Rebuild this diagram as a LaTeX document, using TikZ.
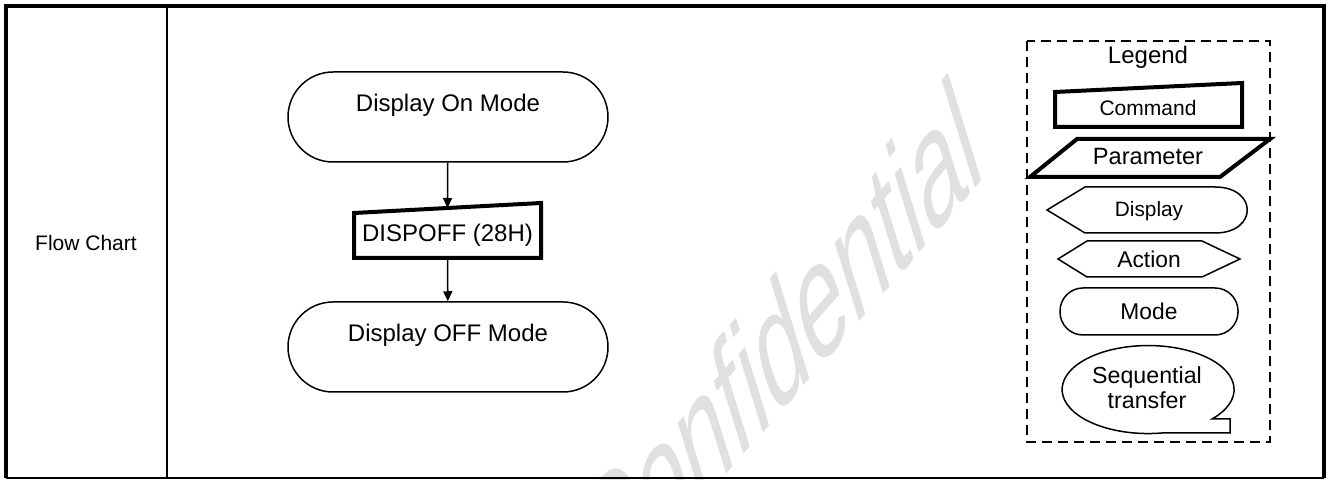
\documentclass[tikz,border=0pt]{standalone}
\usepackage{fontspec}
\setmainfont{Liberation Sans}
\usetikzlibrary{arrows.meta}
\definecolor{markgray}{gray}{0.88}
\tikzset{
  thinline/.style={line width=0.75pt},
  boldline/.style={line width=2pt},
  flowarrow/.style={thinline,-{Triangle[length=5pt,width=4.5pt]}},
  modebox/.style={draw,thinline,rounded corners=22.5pt,minimum width=160pt,minimum height=45pt,
    align=center,font=\fontsize{12}{14}\selectfont},
  cmdbox/.style={inner sep=0pt,outer sep=0pt,minimum width=93.5pt,minimum height=22.5pt,
    font=\fontsize{12}{14}\selectfont},
  legendtext/.style={inner sep=0pt,align=center,font=\fontsize{#1}{12.5}\selectfont}
}
\begin{document}
\begin{tikzpicture}[x=0.5pt,y=-0.5pt]
    \useasboundingbox (0,0) rectangle (1328,480);
    \node [text=markgray,inner sep=0pt,anchor=base east,rotate=49,xslant=0.62,yscale=1.2,
      font=\fontsize{55}{55}\selectfont] (mark) at (987,175) {Confidential};

    \draw [boldline] (6,478) -- (6,6) -- (1324,6) -- (1324,478);
    \draw [thinline] (6,478) -- (1324,478);
    \draw [thinline] (167,6) -- (167,478);
    \node [font=\fontsize{10.5}{12}\selectfont] (title) at (86,243) {Flow Chart};

    \node [modebox] (on) at (448,117) {Display On Mode\\\mbox{}};
    \node [cmdbox] (cmd) at (447.5,235.5) {DISPOFF (28H)};
    \draw [boldline] (cmd.south west) -- (cmd.south east) -- ([yshift=5pt]cmd.north east) -- (cmd.north west) -- cycle;
    \coordinate (cmdtop) at ([yshift=2.5pt]cmd.north);
    \node [modebox] (off) at (448,347) {Display OFF Mode\\\mbox{}};
    \draw [flowarrow] (on) -- (cmdtop);
    \draw [flowarrow] (cmd) -- (off);

    \draw [thinline,dashed,dash pattern=on 5pt off 3pt] (1027,41) rectangle (1270,442);
    \node [legendtext=12] (legend) at (1148,57) {Legend};
    \draw [boldline] (1055,127) -- (1242,127) -- (1242,83) -- (1055,92) -- cycle;
    \node [legendtext=10.5] (lcmd) at (1148,108) {Command};
    \draw [boldline] (1030,177) -- (1077,139) -- (1270,139) -- (1220,177) -- cycle;
    \node [legendtext=11.8] (lpar) at (1148,157) {Parameter};
    \draw [thinline] (1047,210) -- (1085,187) -- (1215,187) .. controls (1258,187) and (1258,233) .. (1215,233) -- (1085,233) -- cycle;
    \node [legendtext=10.4] (ldisp) at (1149,211) {Display};
    \draw [thinline] (1058,259) -- (1087,241) -- (1202,241) -- (1240,259) -- (1202,277) -- (1087,277) -- cycle;
    \node [legendtext=11.4] (lact) at (1149,259) {Action};
    \draw [thinline,rounded corners=11.5pt] (1060,288) rectangle (1238,335);
    \node [legendtext=11.4] (lmode) at (1149,311) {Mode};
    \draw [thinline] (1212,419) arc [start angle=42,end angle=-280,x radius=86,y radius=44] -- (1230,433) -- (1230,419) -- cycle;
    \node [legendtext=11.6] (lseq) at (1147,388) {Sequential\\transfer};
\end{tikzpicture}
\end{document}
